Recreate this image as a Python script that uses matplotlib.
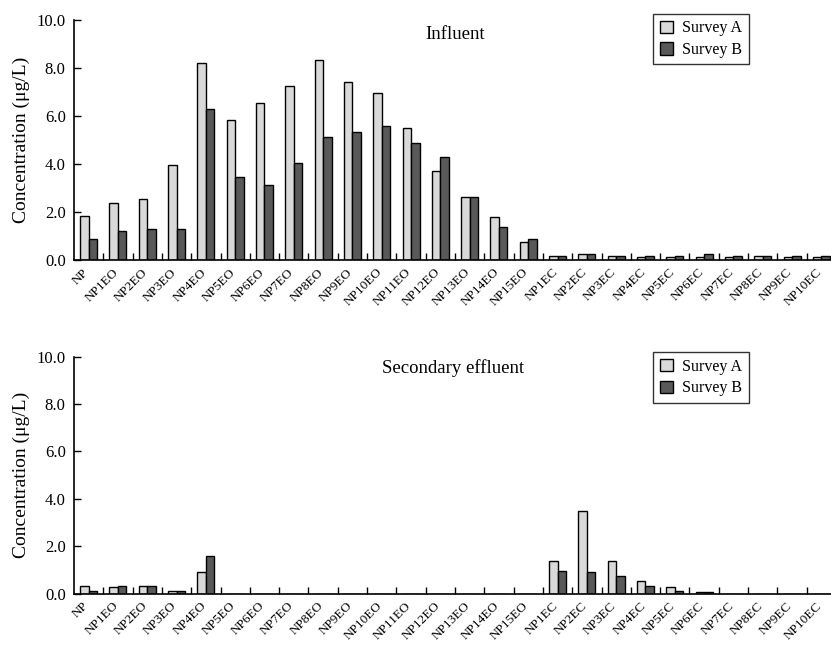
import matplotlib.pyplot as plt
import matplotlib.transforms as mtransforms
import numpy as np

plt.rcParams['font.family'] = ['Liberation Serif', 'DejaVu Serif']

categories = ["NP", "NP1EO", "NP2EO", "NP3EO", "NP4EO", "NP5EO", "NP6EO", "NP7EO",
              "NP8EO", "NP9EO", "NP10EO", "NP11EO", "NP12EO", "NP13EO", "NP14EO",
              "NP15EO", "NP1EC", "NP2EC", "NP3EC", "NP4EC", "NP5EC", "NP6EC",
              "NP7EC", "NP8EC", "NP9EC", "NP10EC"]

# Influent
influent_a = [1.85, 2.36, 2.56, 3.97, 8.21, 5.83, 6.53, 7.24, 8.33, 7.43, 6.97, 5.51,
              3.71, 2.61, 1.78, 0.76, 0.18, 0.25, 0.18, 0.12, 0.12, 0.12, 0.12, 0.15,
              0.12, 0.12]
influent_b = [0.89, 1.22, 1.28, 1.28, 6.28, 3.46, 3.14, 4.03, 5.13, 5.32, 5.58, 4.86,
              4.29, 2.61, 1.39, 0.89, 0.18, 0.25, 0.18, 0.18, 0.18, 0.25, 0.18, 0.18,
              0.18, 0.18]

# Secondary effluent
effluent_a = [0.32, 0.27, 0.32, 0.11, 0.91, 0, 0, 0, 0, 0, 0, 0, 0, 0, 0, 0,
              1.36, 3.49, 1.36, 0.52, 0.27, 0.07, 0, 0, 0, 0]
effluent_b = [0.13, 0.32, 0.32, 0.11, 1.61, 0, 0, 0, 0, 0, 0, 0, 0, 0, 0, 0,
              0.97, 0.90, 0.73, 0.32, 0.13, 0.07, 0, 0, 0, 0]

color_a = "#d9d9d9"
color_b = "#595959"

fig = plt.figure(figsize=(8.31, 6.46), dpi=100)

panels = [
    ([0.089, 0.5975, 0.917, 0.3715], influent_a, influent_b, "Influent", 0.5, 0.94, 1.058),
    ([0.089, 0.081, 0.917, 0.367], effluent_a, effluent_b, "Secondary effluent", 0.497, 0.95, 1.052),
]

x = np.arange(len(categories))
w = 0.29

for pos, vals_a, vals_b, title, title_x, title_y, leg_y in panels:
    ax = fig.add_axes(pos)
    ax.bar(x - w / 2, vals_a, w, color=color_a, edgecolor="black", linewidth=1.0,
           label="Survey A")
    ax.bar(x + w / 2, vals_b, w, color=color_b, edgecolor="black", linewidth=1.0,
           label="Survey B")

    ax.set_xlim(-0.5, len(categories) - 0.5)
    ax.set_ylim(0, 10)
    ax.set_yticks(np.arange(0, 10.1, 2))
    ax.set_yticklabels([f"{v:.1f}" for v in np.arange(0, 10.1, 2)], fontsize=12)
    ax.set_ylabel("Concentration (\u03bcg/L)", fontsize=14, labelpad=5)

    ax.set_xticks(x)
    ax.set_xticklabels(categories, rotation=45, ha="right", va="top",
                       rotation_mode="anchor", fontsize=9.5)
    ax.set_xticks(np.arange(0.5, len(categories) - 0.5, 1), minor=True)
    ax.tick_params(axis="x", which="major", length=0, pad=4.5)
    ax.tick_params(axis="x", which="minor", direction="in", length=5, width=1)
    ax.tick_params(axis="y", direction="in", length=5, width=1, pad=6)
    offset = mtransforms.ScaledTranslation(-6 / 100, 0, fig.dpi_scale_trans)
    for lbl in ax.get_xticklabels():
        lbl.set_transform(lbl.get_transform() + offset)

    for side in ["top", "right"]:
        ax.spines[side].set_visible(False)
    for side in ["left", "bottom"]:
        ax.spines[side].set_linewidth(1.2)

    ax.text(title_x, title_y, title, transform=ax.transAxes, ha="center", va="center",
            fontsize=13.5)

    leg = ax.legend(loc="upper left", bbox_to_anchor=(0.75, leg_y), fontsize=11.5,
                    frameon=True, fancybox=False, edgecolor="black",
                    handlelength=0.8, handleheight=0.8, handletextpad=0.6,
                    borderpad=0.4, labelspacing=0.35)
    leg.get_frame().set_linewidth(1.0)

fig.savefig("out.png", dpi=100)
